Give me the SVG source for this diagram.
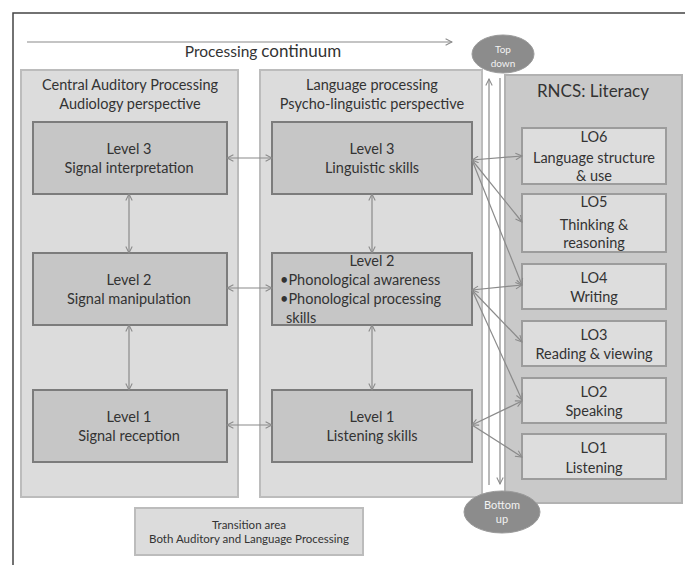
<svg xmlns="http://www.w3.org/2000/svg" width="685" height="565" viewBox="0 0 685 565">
<style>
text{font-family:Lato,"Liberation Sans",sans-serif;fill:#333;text-anchor:middle}
.t{font-size:14.5px}
.lv{font-size:14.5px}
.panel{fill:#dcdcdc;stroke:#bcbcbc;stroke-width:2}
.box{fill:#c6c6c6;stroke:#7c7c7c;stroke-width:2}
.lo{fill:#dddddd;stroke:#9c9c9c;stroke-width:2}
.con{stroke:#8a8a8a;stroke-width:1.2;fill:none}
.dbl{marker-start:url(#ah);marker-end:url(#ah)}
.one{marker-end:url(#ah)}
.ell{fill:#8c8c8c;stroke:#9a9a9a}
.wt{fill:#f4f4f4}
</style>
<defs>
<marker id="ah" viewBox="0 0 10 10" refX="9" refY="5" markerWidth="8" markerHeight="8" markerUnits="userSpaceOnUse" orient="auto-start-reverse">
<path d="M1,1 L9,5 L1,9" fill="none" stroke="#8a8a8a" stroke-width="1.3"/>
</marker>
</defs>
<rect width="685" height="565" fill="#ffffff"/>
<path d="M13,565 V13 H685" fill="none" stroke="#444" stroke-width="1.5"/>

<g id="continuum">
<line x1="27" y1="42" x2="452" y2="42" class="con one"/>
<text x="263" y="57" style="font-size:15.5px">Processing <tspan style="font-size:17px">continuum</tspan></text>
</g>

<g id="auditory-panel">
<rect x="21" y="70" width="217" height="427" class="panel"/>
<text class="t" x="130" y="90">Central Auditory Processing</text>
<text class="t" x="130" y="109">Audiology perspective</text>
</g>
<g id="language-panel">
<rect x="260" y="70" width="222" height="427" class="panel"/>
<text class="t" x="372" y="90">Language processing</text>
<text class="t" x="372" y="109">Psycho-linguistic perspective</text>
</g>
<g id="rncs-panel">
<rect x="505" y="75" width="177" height="428" fill="#c9c9c9" stroke="#b2b2b2" stroke-width="2"/>
<text x="593" y="97" style="font-size:17px">RNCS: Literacy</text>
</g>

<g id="a-level3"><rect x="33" y="122" width="194" height="72" class="box"/>
<text class="lv" x="129" y="154">Level 3</text><text class="lv" x="129" y="173">Signal interpretation</text></g>
<g id="a-level2"><rect x="33" y="253" width="194" height="72" class="box"/>
<text class="lv" x="129" y="285">Level 2</text><text class="lv" x="129" y="304">Signal manipulation</text></g>
<g id="a-level1"><rect x="33" y="390" width="194" height="72" class="box"/>
<text class="lv" x="129" y="422">Level 1</text><text class="lv" x="129" y="441">Signal reception</text></g>

<g id="l-level3"><rect x="272" y="122" width="200" height="72" class="box"/>
<text class="lv" x="372" y="154">Level 3</text><text class="lv" x="372" y="173">Linguistic skills</text></g>
<g id="l-level2"><rect x="272" y="253" width="200" height="72" class="box"/>
<text class="lv" x="372" y="266">Level 2</text>
<text class="lv" x="280" y="285" style="text-anchor:start">•Phonological awareness</text>
<text class="lv" x="280" y="304" style="text-anchor:start">•Phonological processing</text>
<text class="lv" x="286" y="323" style="text-anchor:start">skills</text></g>
<g id="l-level1"><rect x="272" y="390" width="200" height="72" class="box"/>
<text class="lv" x="372" y="422">Level 1</text><text class="lv" x="372" y="441">Listening skills</text></g>

<g id="lo6"><rect x="522" y="128" width="144" height="56" class="lo"/>
<text class="lv" x="594" y="142">LO6</text><text class="lv" x="594" y="163">Language structure</text><text class="lv" x="594" y="181">&amp; use</text></g>
<g id="lo5"><rect x="522" y="194" width="144" height="58" class="lo"/>
<text class="lv" x="594" y="207">LO5</text><text class="lv" x="594" y="230">Thinking &amp;</text><text class="lv" x="594" y="248">reasoning</text></g>
<g id="lo4"><rect x="522" y="264" width="144" height="45" class="lo"/>
<text class="lv" x="594" y="283">LO4</text><text class="lv" x="594" y="302">Writing</text></g>
<g id="lo3"><rect x="522" y="321" width="144" height="45" class="lo"/>
<text class="lv" x="594" y="340">LO3</text><text class="lv" x="594" y="359">Reading &amp; viewing</text></g>
<g id="lo2"><rect x="522" y="378" width="144" height="45" class="lo"/>
<text class="lv" x="594" y="397">LO2</text><text class="lv" x="594" y="416">Speaking</text></g>
<g id="lo1"><rect x="522" y="434" width="144" height="45" class="lo"/>
<text class="lv" x="594" y="453">LO1</text><text class="lv" x="594" y="473">Listening</text></g>

<g id="transition"><rect x="135" y="508" width="228" height="47" class="panel"/>
<text x="249" y="529" style="font-size:11.5px">Transition area</text>
<text x="249" y="543" style="font-size:11.5px">Both Auditory and Language Processing</text></g>

<g id="top-down"><ellipse cx="503" cy="54" rx="31" ry="19" class="ell"/>
<text class="wt" x="503" y="53" style="font-size:10px;fill:#f2f2f2">Top</text><text x="503" y="67" style="font-size:10px;fill:#f2f2f2">down</text></g>
<g id="bottom-up"><ellipse cx="502" cy="512" rx="38" ry="21" class="ell"/>
<text x="502" y="509" style="font-size:11px;fill:#f2f2f2">Bottom</text><text x="502" y="523" style="font-size:11px;fill:#f2f2f2">up</text></g>

<g id="connectors">
<line x1="489" y1="485" x2="489" y2="79" class="con one"/>
<line x1="500" y1="78" x2="500" y2="484" class="con one"/>
<line x1="227" y1="158" x2="272" y2="158" class="con dbl"/>
<line x1="227" y1="288" x2="272" y2="288" class="con dbl"/>
<line x1="227" y1="425" x2="272" y2="425" class="con dbl"/>
<line x1="129" y1="194" x2="129" y2="253" class="con dbl"/>
<line x1="129" y1="325" x2="129" y2="390" class="con dbl"/>
<line x1="372" y1="194" x2="372" y2="253" class="con dbl"/>
<line x1="372" y1="325" x2="372" y2="390" class="con dbl"/>
<line x1="472" y1="160" x2="522" y2="156" class="con dbl"/>
<line x1="472" y1="160" x2="522" y2="222" class="con one"/>
<line x1="472" y1="160" x2="522" y2="285" class="con one"/>
<line x1="472" y1="290" x2="522" y2="285" class="con dbl"/>
<line x1="472" y1="290" x2="522" y2="342" class="con one"/>
<line x1="472" y1="290" x2="522" y2="400" class="con one"/>
<line x1="472" y1="425" x2="522" y2="401" class="con dbl"/>
<line x1="472" y1="425" x2="522" y2="457" class="con one"/>
</g>
</svg>
